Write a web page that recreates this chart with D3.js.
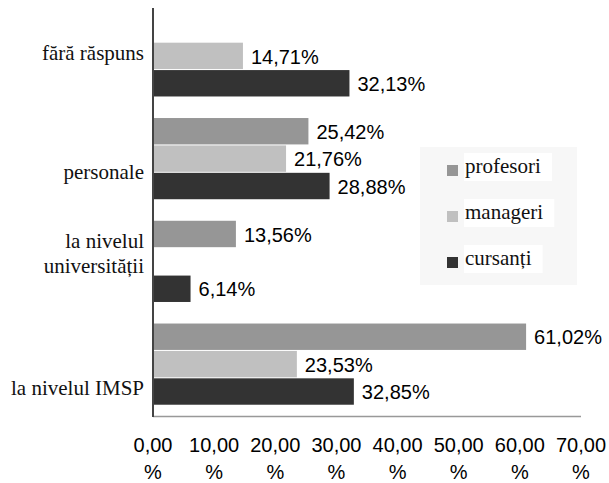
<!DOCTYPE html>
<html>
<head>
<meta charset="utf-8">
<script src="https://cdn.jsdelivr.net/npm/d3@7/dist/d3.min.js"></script>
<style>
  html, body { margin: 0; padding: 0; background: #fff; }
  svg { display: block; }
  .serif { font-family: "Liberation Serif", "Times New Roman", Times, "DejaVu Serif", serif; }
  .sans { font-family: "Liberation Sans", Arial, Helvetica, "DejaVu Sans", sans-serif; }
</style>
</head>
<body>
<svg id="chart" width="609" height="483"></svg>
<script>
// Categories, top to bottom
const categories = ["fără răspuns", "personale", "la nivelul universității", "la nivelul IMSP"];
// Category label lines (wrapped text)
const categoryLines = [["fără răspuns"], ["personale"], ["la nivelul", "universității"], ["la nivelul IMSP"]];
// Series names (drawn top to bottom within each category)
const seriesNames = ["profesori", "manageri", "cursanți"];
// Series values in %, null = no bar
const profesori = [null, 25.42, 13.56, 61.02];
const manageri = [14.71, 21.76, null, 23.53];
const cursanti = [32.13, 28.88, 6.14, 32.85];
// X-axis ticks
const xTicks = [0, 10, 20, 30, 40, 50, 60, 70];

const seriesValues = [profesori, manageri, cursanti];
const colors = ["#969696", "#c0c0c0", "#333333"];

const svg = d3.select("#chart");

const x = d3.scaleLinear().domain([0, 70]).range([153, 581]);
const y = d3.scaleBand().domain(categories).range([5, 416]).paddingInner(0.2).paddingOuter(0.1);
const ySub = d3.scaleBand().domain(seriesNames).range([0, y.bandwidth()]);

const fmt = v => d3.format(".2f")(v).replace(".", ",");

// Bars and value labels
seriesNames.forEach((s, si) => {
  const rows = categories.map((c, ci) => ({ c, v: seriesValues[si][ci] })).filter(d => d.v != null);
  svg.append("g").selectAll("rect").data(rows).join("rect")
    .attr("x", x(0) + 1)
    .attr("y", d => y(d.c) + ySub(s))
    .attr("width", d => x(d.v) - x(0) - 1)
    .attr("height", ySub.bandwidth() - 1)
    .attr("fill", colors[si]);
  svg.append("g").attr("class", "sans").selectAll("text").data(rows).join("text")
    .attr("x", d => x(d.v) + 8)
    .attr("y", d => y(d.c) + ySub(s) + ySub.bandwidth() / 2)
    .attr("dy", "0.36em")
    .attr("font-size", 20)
    .attr("fill", "#000")
    .text(d => fmt(d.v) + "%");
});

// Axes lines
svg.append("line")
  .attr("x1", x(0)).attr("x2", x(70))
  .attr("y1", 416.5).attr("y2", 416.5)
  .attr("stroke", "#999").attr("stroke-width", 1.5);
svg.append("line")
  .attr("x1", x(0)).attr("x2", x(0))
  .attr("y1", 8).attr("y2", 417)
  .attr("stroke", "#444").attr("stroke-width", 2);

// Category labels (hand-placed shifts from the band centre)
const labelShift = [-3, 13, -8, 23];
const catG = svg.append("g")
  .attr("class", "serif")
  .attr("font-size", 21)
  .attr("fill", "#111")
  .attr("text-anchor", "end");
categories.forEach((c, i) => {
  const lines = categoryLines[i];
  const cy = y(c) + y.bandwidth() / 2 + labelShift[i];
  const lh = 25;
  lines.forEach((ln, j) => {
    catG.append("text")
      .attr("x", 144)
      .attr("y", cy + (j - (lines.length - 1) / 2) * lh)
      .attr("dy", "0.33em")
      .text(ln);
  });
});

// X tick labels, two lines each
const tickG = svg.append("g")
  .attr("class", "sans")
  .attr("font-size", 20)
  .attr("fill", "#000")
  .attr("text-anchor", "middle");
xTicks.forEach(t => {
  tickG.append("text").attr("x", x(t)).attr("y", 445).attr("dy", "0.36em").text(fmt(t));
  tickG.append("text").attr("x", x(t)).attr("y", 472).attr("dy", "0.36em").text("%");
});

// Legend
const leg = svg.append("g");
leg.append("rect").attr("x", 420).attr("y", 147).attr("width", 157).attr("height", 138).attr("fill", "#f7f7f7");
const legRowY = [170, 216, 262];
seriesNames.forEach((s, i) => {
  const ry = legRowY[i];
  leg.append("rect").attr("x", 447).attr("y", ry - 5).attr("width", 11).attr("height", 11).attr("fill", colors[i]);
  const bg = leg.append("rect").attr("fill", "#fff");
  const t = leg.append("text")
    .attr("class", "serif")
    .attr("x", 465).attr("y", ry + 3)
    .attr("font-size", 21)
    .attr("fill", "#111")
    .text(s);
  const bb = t.node().getBBox();
  bg.attr("x", bb.x - 1).attr("y", bb.y - 1).attr("width", bb.width + 12).attr("height", bb.height + 4);
});
</script>
</body>
</html>
